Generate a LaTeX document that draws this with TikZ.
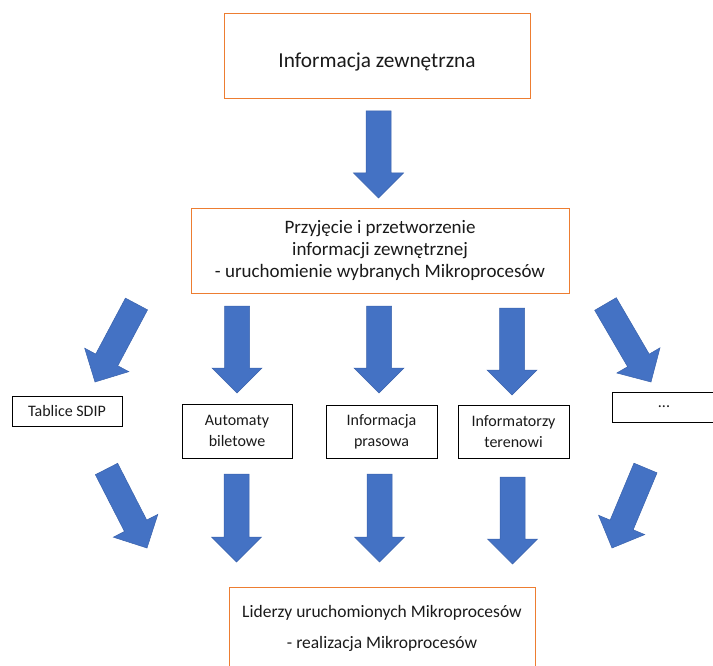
\documentclass[tikz,border=0pt]{standalone}
\usepackage{fontspec}
\setmainfont{Carlito}
\usetikzlibrary{calc}
\definecolor{cframe}{HTML}{ED7D31}
\definecolor{cblue}{HTML}{4472C4}
\definecolor{cblueedge}{HTML}{3A62AC}
\definecolor{ink}{HTML}{1A1A1A}

% block arrow from tail centre #1 to tip #2
\newcommand{\bigarrow}[2]{%
  \coordinate (ah) at ($(#2)!25pt!(#1)$);
  \draw[blk] ($(#1)!12.5pt!90:(#2)$) -- ($(ah)!12.5pt!90:(#2)$)
    -- ($(ah)!25pt!90:(#2)$) -- (#2) -- ($(ah)!25pt!-90:(#2)$)
    -- ($(ah)!12.5pt!-90:(#2)$) -- ($(#1)!12.5pt!-90:(#2)$) -- cycle;}

\begin{document}
\begin{tikzpicture}[x=1pt, y=-1pt, font=\color{ink},
    src/.style={draw=cframe, line width=0.9pt, align=center, inner sep=0pt},
    box/.style={draw=black, line width=0.8pt, align=center, inner sep=0pt,
                minimum width=110pt, font=\fontsize{16}{21}\selectfont\color{ink}},
    blk/.style={fill=cblue, draw=cblueedge, line width=0.5pt}]
  \useasboundingbox (0,0) rectangle (713,666);

  \node[src, minimum width=306pt, minimum height=85pt,
        font=\fontsize{21.3}{25}\selectfont\color{ink}] (ext) at (377,55.5)
        {\raisebox{-6pt}[\height][\depth]{Informacja zewnętrzna}};
  \node[src, minimum width=378pt, minimum height=85pt,
        font=\fontsize{19}{22}\selectfont\color{ink}] (proc) at (380,250.5)
        {Przyjęcie i przetworzenie\\ informacji zewnętrznej\\
         - uruchomienie wybranych Mikroprocesów};

  \node[box, minimum height=30pt] (sdip) at (67,411) {Tablice SDIP};
  \node[box, minimum height=54pt] (auto) at (237,431) {Automaty\\ biletowe};
  \node[box, minimum height=53pt, minimum width=111pt] (pras) at (381.5,431.5)
        {Informacja\\ prasowa};
  \node[box, minimum height=53pt, minimum width=111pt] (teren) at (513.5,431.5)
        {Informatorzy\\ terenowi};
  \node[box, minimum height=30pt, minimum width=104pt] (etc) at (664,407) {...};

  \node[src, minimum width=306pt, minimum height=82pt,
        font=\fontsize{17.5}{31}\selectfont\color{ink}] (lid) at (382,628)
        {Liderzy uruchomionych Mikroprocesów\\ - realizacja Mikroprocesów};

  % arrow ends
  \coordinate (a0) at (378.5,111);  \coordinate (a0e) at (378.5,198);
  \coordinate (b1) at (136.5,304);  \coordinate (b1e) at (95,382);
  \coordinate (b2) at (237,306);    \coordinate (b2e) at (237,393);
  \coordinate (b3) at (379,306);    \coordinate (b3e) at (379,393);
  \coordinate (b4) at (512,308);    \coordinate (b4e) at (512,395);
  \coordinate (b5) at (605.5,304);  \coordinate (b5e) at (651,382);
  \coordinate (c1) at (106.5,469);  \coordinate (c1e) at (147,548);
  \coordinate (c2) at (236.5,474);  \coordinate (c2e) at (236.5,562);
  \coordinate (c3) at (379.5,474);  \coordinate (c3e) at (379.5,562);
  \coordinate (c4) at (512.5,477);  \coordinate (c4e) at (512.5,564);
  \coordinate (c5) at (645.5,468);  \coordinate (c5e) at (612,548);

  \foreach \a in {a0,b1,b2,b3,b4,b5,c1,c2,c3,c4,c5}
    \bigarrow{\a}{\a e};
\end{tikzpicture}
\end{document}
